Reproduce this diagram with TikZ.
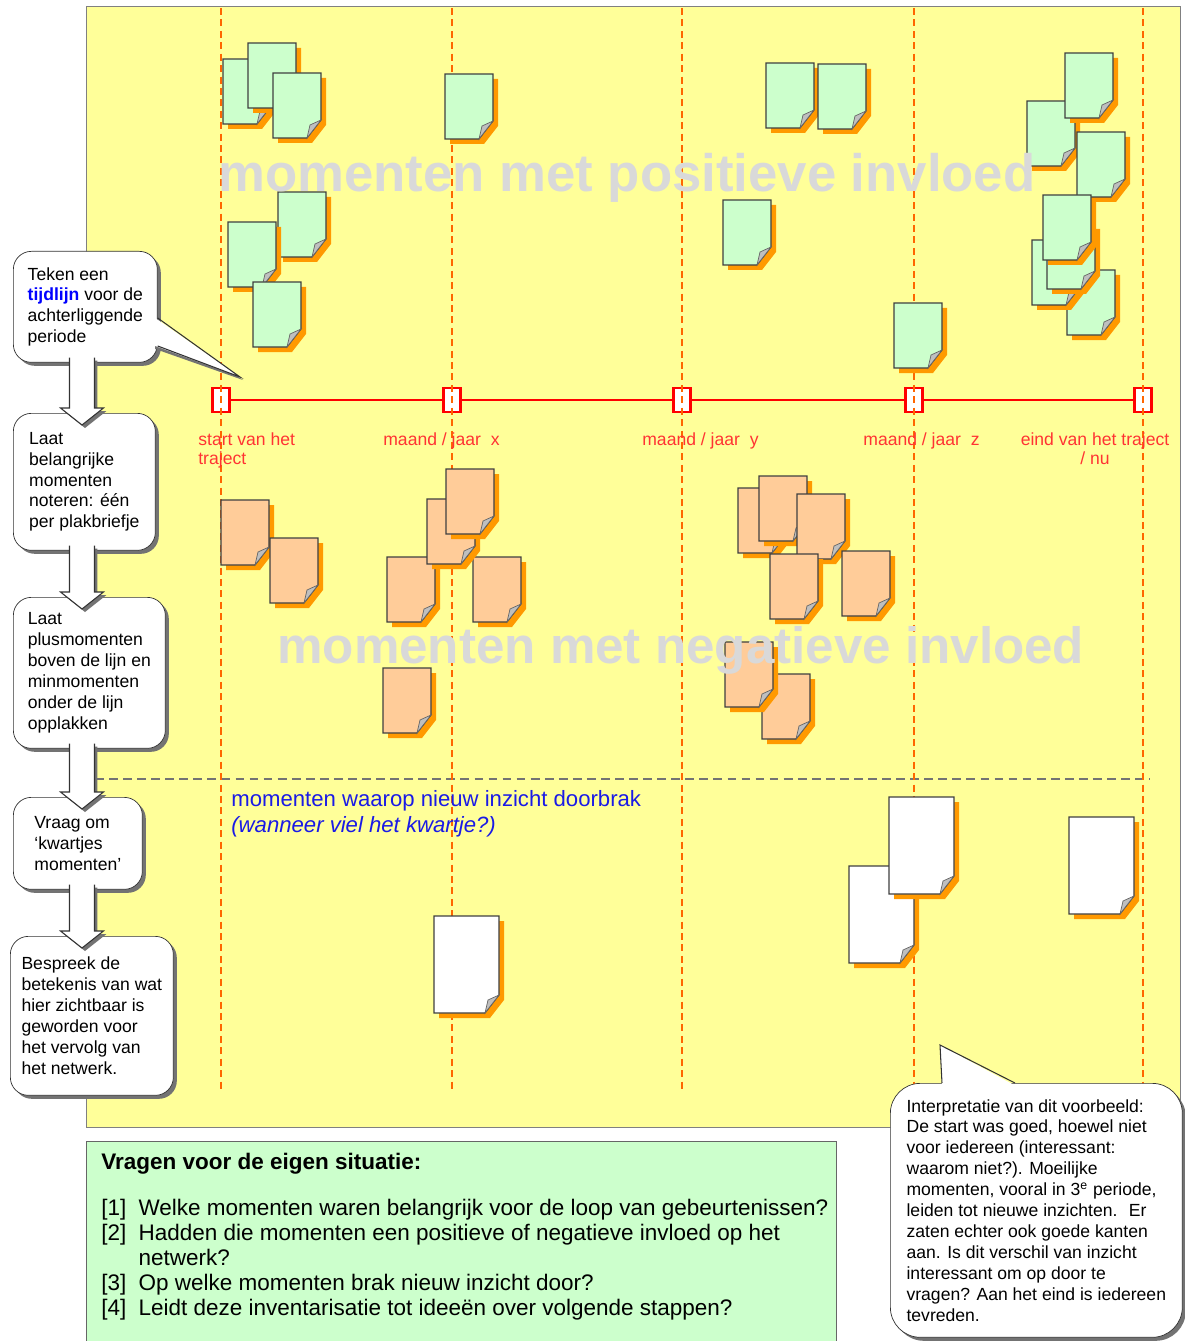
\documentclass[tikz,border=0pt]{standalone}
\usepackage{fontspec}
\setmainfont{Liberation Sans}
\usetikzlibrary{shapes,arrows,shadows,calc}

\definecolor{velgeel}{HTML}{FFFF99}
\definecolor{tijdrood}{HTML}{FF0000}
\definecolor{labelrood}{HTML}{FF3333}
\definecolor{streeporanje}{HTML}{FF6600}
\definecolor{plusgroen}{HTML}{CCFFCC}
\definecolor{minperzik}{HTML}{FFCC99}
\definecolor{brieforanje}{HTML}{FF9900}
\definecolor{inzichtblauw}{HTML}{1A1AE6}
\definecolor{watermerk}{HTML}{D9D9D9}

\newcommand\stapfont{\fontsize{10}{11.9}\selectfont}
\newcommand\vraagfont{\fontsize{12.8}{14.3}\selectfont}

% plakbriefje: x, y (linksboven), breedte, hoogte, stijl
\newcommand\briefje[5]{%
  \fill[brieforanje] ({#1+5},{#2+5}) -- ++(#3,0) -- ++(0,{#4-18}) -- ++(-14,18) -- ({#1+5},{#2+#4+5}) -- cycle;
  \draw[briefrand,#5] (#1,#2) -- ++(#3,0) -- ++(0,{#4-18}) -- ++(-14,18) -- (#1,{#2+#4}) -- cycle;
  \filldraw[briefkrul] ({#1+#3},{#2+#4-18}) -- ({#1+#3-14},{#2+#4}) -- ({#1+#3-11},{#2+#4-13}) -- cycle;
}

% blokpijl tussen twee stappen
\newcommand\pijl[2]{%
  \path[pijlvorm] let \p1=(pijlas |- #1.south), \p2=(pijlas |- #2.north) in
    (\x1-0.25cm,\y1+0.1cm) -- (\x1-0.25cm,\y2+0.1cm) -- (\x1-0.43cm,\y2+0.1cm)
    -- (\x1,\y2-0.24cm) -- (\x1+0.43cm,\y2+0.1cm) -- (\x1+0.25cm,\y2+0.1cm)
    -- (\x1+0.25cm,\y1+0.1cm);}

\tikzset{
  vel/.style={draw=black!50, fill=velgeel},
  scheidslijn/.style={draw=black!55, line width=0.9pt, dash pattern=on 5pt off 3pt},
  markering/.style={draw=tijdrood, fill=white, line width=1.2pt, inner sep=0pt,
    minimum width=0.34cm, minimum height=0.48cm},
  tijdlijn/.style={draw=tijdrood, line width=1.1pt},
  tijdas/.style={draw=streeporanje, line width=1.1pt, dash pattern=on 4pt off 2.5pt},
  periode/.style={text=labelrood, font=\fontsize{10}{11.3}\selectfont, inner sep=0pt, align=left},
  briefrand/.style={draw=black!75, line width=0.6pt},
  briefkrul/.style={draw=black!60, fill=black!25, line width=0.4pt},
  plusnote/.style={fill=plusgroen},
  minnote/.style={fill=minperzik},
  kwartnote/.style={fill=white},
  watermerktekst/.style={text=watermerk, font=\fontsize{30}{32}\selectfont\bfseries, inner sep=0pt},
  inzicht/.style={text=inzichtblauw, font=\fontsize{12.6}{14}\selectfont, inner sep=0pt},
  stapbox/.style={draw=black!80, fill=white, rounded corners=0.36cm, align=left,
    anchor=north west, inner sep=0pt, font=\stapfont,
    drop shadow={shadow xshift=0.07cm, shadow yshift=-0.07cm, fill=black!55, opacity=1}},
  pijlvorm/.style={draw=black!80, fill=white, line width=0.6pt,
    drop shadow={shadow xshift=0.06cm, shadow yshift=-0.06cm, fill=black!55, opacity=1}},
  wolkrand/.style={draw=black!80, line width=0.6pt},
  vraagvak/.style={draw=black!60, fill=plusgroen},
  uitlegbox/.style={draw=black!80, fill=white, rounded corners=0.6cm, align=left,
    anchor=north west, inner xsep=0.3cm, font=\stapfont,
    minimum width=5.84cm, minimum height=5.08cm,
    drop shadow={shadow xshift=0.07cm, shadow yshift=-0.07cm, fill=black!55, opacity=1}},
}

\begin{document}
\begin{tikzpicture}[x=0.02cm,y=-0.02cm]
\useasboundingbox (0,0) rectangle (1184,1341);
\fill[white] (0,0) rectangle (1184,1341);

% tekenvel
\draw[vel] (86,6) rectangle (1180,1127);
\coordinate (bovenrand) at (0,8);
\coordinate (onderrand) at (0,1090);
\coordinate (pijlas) at (82,0);
\draw[scheidslijn] (95,779) -- (1150,779);

% tijdlijn
\foreach \x [count=\i] in {221,452,682,914,1143}
  \node[markering] (m\i) at (\x,400) {};
\draw[tijdlijn] (m1) -- (m2) (m2) -- (m3) (m3) -- (m4) (m4) -- (m5);
\foreach \i in {1,...,5}
  \draw[tijdas] (m\i |- bovenrand) -- (m\i |- onderrand);

\node[periode, anchor=north west] (start) at (198,432) {start van het\\traject};
\node[periode, anchor=north west] (maandx) at (383,432) {maand / jaar~ x};
\node[periode, anchor=north west] (maandy) at (642,432) {maand / jaar~ y};
\node[periode, anchor=north west] (maandz) at (863,432) {maand / jaar~ z};
\node[periode, anchor=north, align=center] (eind) at (1095,432) {eind van het traject\\/ nu};

% plusmomenten
\foreach \x/\y in {223/59, 248/43, 273/73, 278/192, 228/222, 253/282, 445/74,
    766/63, 818/64, 723/200, 894/303, 1027/101, 1065/53, 1077/132,
    1067/270, 1032/240, 1047/224, 1043/195}
  {\briefje{\x}{\y}{48}{65}{plusnote}}

% minmomenten
\foreach \x/\y in {221/500, 270/538, 387/557, 473/557, 427/499, 446/469, 383/668,
    738/488, 759/476, 797/494, 770/554, 842/551, 762/674, 725/642}
  {\briefje{\x}{\y}{48}{65}{minnote}}

% kwartjes
\foreach \x/\y in {434/916, 849/866, 889/797, 1069/817}
  {\briefje{\x}{\y}{65}{97}{kwartnote}}

\node[watermerktekst, anchor=base west] (plustekst) at (218,192) {momenten met positieve invloed};
\node[watermerktekst, anchor=base west, font=\fontsize{29.1}{32}\selectfont\bfseries] (mintekst) at (277,663) {momenten met negatieve invloed};

\node[inzicht, anchor=base west] (doorbrak) at (231,806) {momenten waarop nieuw inzicht doorbrak};
\node[inzicht, anchor=base west, font=\fontsize{12.6}{14}\selectfont\itshape] (kwartje) at (231,832) {(wanneer viel het kwartje?)};

% stappen links
\node[stapbox, minimum width=2.88cm, minimum height=2.22cm] (teken) at (13,251)
  {Teken een\\ \textcolor{blue}{\textbf{tijdlijn}} voor de\\achterliggende\\periode};
\node[stapbox, minimum width=2.84cm, minimum height=2.74cm] (noteren) at (13,413)
  {Laat\\belangrijke\\momenten\\noteren: één\\per plakbriefje};
\node[stapbox, minimum width=3.04cm, minimum height=3.02cm] (plakken) at (13,597)
  {Laat\\plusmomenten\\boven de lijn en\\minmomenten\\onder de lijn\\opplakken};
\node[stapbox, minimum width=2.58cm, minimum height=1.84cm] (kwartjes) at (13,797)
  {Vraag om\\‘kwartjes\\momenten’};
\node[stapbox, minimum width=3.26cm, minimum height=3.18cm] (bespreek) at (10,936)
  {Bespreek de\\betekenis van wat\\hier zichtbaar is\\geworden voor\\het vervolg van\\het netwerk.};

\pijl{teken}{noteren}
\pijl{noteren}{plakken}
\pijl{plakken}{kwartjes}
\pijl{kwartjes}{bespreek}

% wolkje naar de tijdlijn
\coordinate (tekenpunt) at (240,377);
\fill[black!55] ([xshift=-0.05cm, yshift=-1.4cm]teken.north east) -- ([xshift=0.06cm, yshift=-0.06cm]tekenpunt)
  -- ([xshift=-0.05cm, yshift=-1.96cm]teken.north east) -- cycle;
\fill[white] ([xshift=-0.05cm, yshift=-1.34cm]teken.north east) -- (tekenpunt)
  -- ([xshift=-0.05cm, yshift=-1.9cm]teken.north east) -- cycle;
\draw[wolkrand] ([yshift=-1.34cm]teken.north east) -- (tekenpunt) -- ([yshift=-1.9cm]teken.north east);

% vragen
\draw[vraagvak] (86,1141) rectangle (836,1345);
\node[anchor=base west, inner sep=0pt, font=\vraagfont\bfseries] (vragen) at (101,1169) {Vragen voor de eigen situatie:};
\node[anchor=base west, inner sep=0pt, font=\vraagfont] (lijst) at (101,1215) {%
  \begin{tabular}[t]{@{}l@{\hspace{7pt}}l@{}}
  {[1]} & Welke momenten waren belangrijk voor de loop van gebeurtenissen?\\
  {[2]} & Hadden die momenten een positieve of negatieve invloed op het\\
        & netwerk?\\
  {[3]} & Op welke momenten brak nieuw inzicht door?\\
  {[4]} & Leidt deze inventarisatie tot ideeën over volgende stappen?
  \end{tabular}};

% interpretatie
\node[uitlegbox] (interp) at (890,1083)
  {Interpretatie van dit voorbeeld:\\De start was goed, hoewel niet\\voor iedereen (interessant:\\waarom niet?). Moeilijke\\momenten, vooral in 3\textsuperscript{e} periode,\\leiden tot nieuwe inzichten.~ Er\\zaten echter ook goede kanten\\aan. Is dit verschil van inzicht\\interessant om op door te\\vragen? Aan het eind is iedereen\\tevreden.};
\coordinate (interppunt) at (940,1045);
\fill[white] ([xshift=1.04cm, yshift=-0.05cm]interp.north west) -- (interppunt)
  -- ([xshift=2.5cm, yshift=-0.05cm]interp.north west) -- cycle;
\draw[wolkrand] ([xshift=1.04cm]interp.north west) -- (interppunt) -- ([xshift=2.5cm]interp.north west);
\end{tikzpicture}
\end{document}
